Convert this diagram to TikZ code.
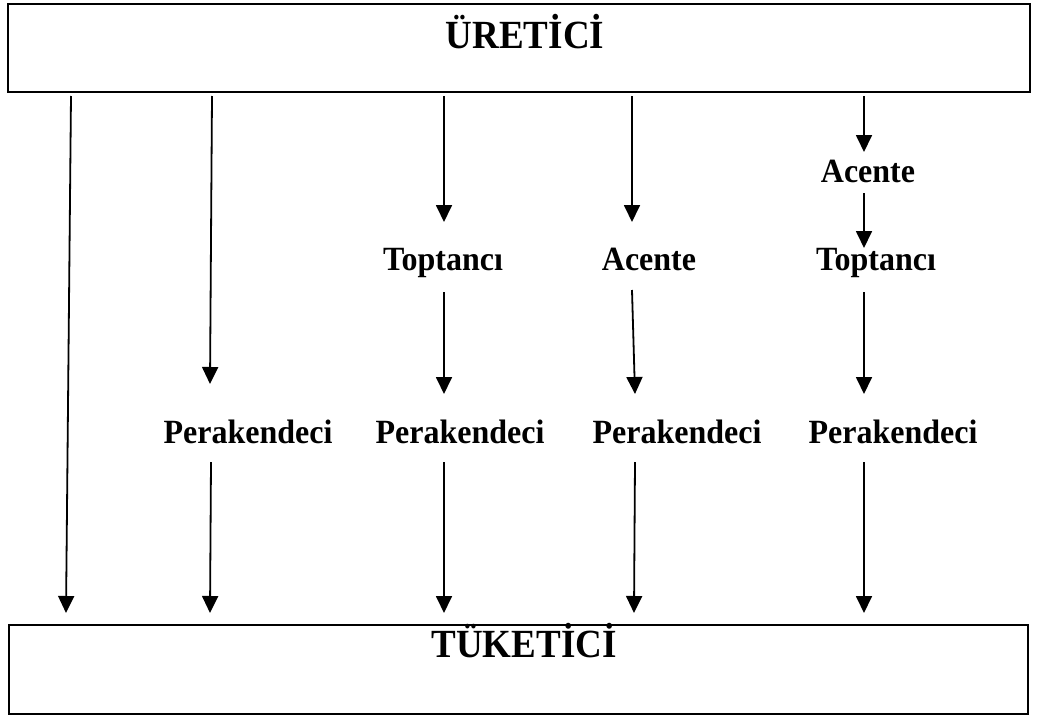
\documentclass[tikz,border=0pt]{standalone}
\usepackage{fontspec}
\setmainfont{Liberation Serif}
\usetikzlibrary{arrows.meta}
\begin{document}
\begin{tikzpicture}[x=1pt,y=-1pt,
  panel/.style={draw=black, line width=2pt, inner sep=0pt},
  title/.style={font=\fontsize{37}{42}\selectfont\bfseries, anchor=base, inner sep=0pt, yscale=1.08},
  lbl/.style={font=\fontsize{32}{36}\selectfont\bfseries, anchor=base, inner sep=0pt, yscale=1.06},
  arr/.style={line width=1.8pt, -{Triangle[length=17pt,width=16pt]}}]
\useasboundingbox (0,0) rectangle (1037,715);

% producer and consumer panels
\node[panel, minimum width=1022pt, minimum height=88pt] (top) at (519,48) {};
\node[panel, minimum width=1019pt, minimum height=89pt] (bot) at (518.5,669.5) {};
\node[title] (uretici) at (525,48) {ÜRETİCİ};
\node[title] (tuketici) at (524,657) {TÜKETİCİ};

% intermediaries
\node[lbl] (per2) at (248,443) {Perakendeci};
\node[lbl] (top3) at (443,270) {Toptancı};
\node[lbl] (per3) at (460,443) {Perakendeci};
\node[lbl] (ace4) at (649,270) {Acente};
\node[lbl] (per4) at (677,443) {Perakendeci};
\node[lbl] (ace5) at (868,182) {Acente};
\node[lbl] (top5) at (876,270) {Toptancı};
\node[lbl] (per5) at (893,443) {Perakendeci};

% arrow end points
\coordinate (c1a) at (71,96);   \coordinate (c1b) at (66,613);
\coordinate (c2a) at (212,96);  \coordinate (c2b) at (210,384);
\coordinate (c2c) at (211,462); \coordinate (c2d) at (210,613);
\coordinate (c3a) at (444,96);  \coordinate (c3b) at (444,222);
\coordinate (c3c) at (444,292); \coordinate (c3d) at (444,394);
\coordinate (c3e) at (444,462); \coordinate (c3f) at (444,613);
\coordinate (c4a) at (632,96);  \coordinate (c4b) at (632,222);
\coordinate (c4c) at (632,290); \coordinate (c4d) at (635,394);
\coordinate (c4e) at (635,462); \coordinate (c4f) at (634,613);
\coordinate (c5a) at (864,96);  \coordinate (c5b) at (864,152);
\coordinate (c5c) at (864,193); \coordinate (c5d) at (864,248);
\coordinate (c5e) at (864,292); \coordinate (c5f) at (864,394);
\coordinate (c5g) at (864,462); \coordinate (c5h) at (864,613);

% distribution channels
\draw[arr] (c1a) -- (c1b);
\draw[arr] (c2a) -- (c2b);
\draw[arr] (c2c) -- (c2d);
\draw[arr] (c3a) -- (c3b);
\draw[arr] (c3c) -- (c3d);
\draw[arr] (c3e) -- (c3f);
\draw[arr] (c4a) -- (c4b);
\draw[arr] (c4c) -- (c4d);
\draw[arr] (c4e) -- (c4f);
\draw[arr] (c5a) -- (c5b);
\draw[arr] (c5c) -- (c5d);
\draw[arr] (c5e) -- (c5f);
\draw[arr] (c5g) -- (c5h);
\end{tikzpicture}
\end{document}
